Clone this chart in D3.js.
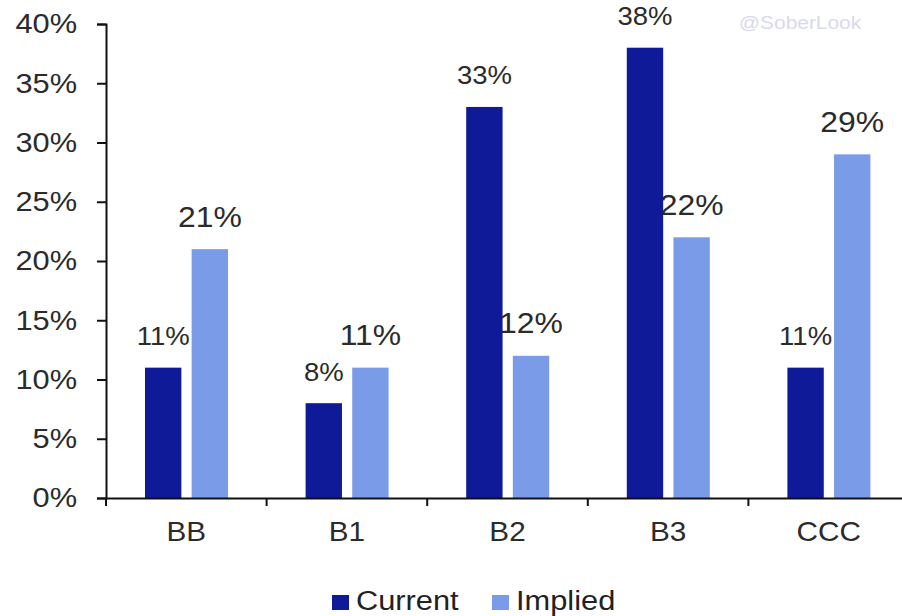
<!DOCTYPE html>
<html>
<head>
<meta charset="utf-8">
<script src="https://cdn.jsdelivr.net/npm/d3@7"></script>
<style>
  body { margin: 0; background: #fff; }
  svg text { font-family: "Liberation Sans", Arial, sans-serif; }
</style>
</head>
<body>
<div id="chart"></div>
<script>
const categories = ["BB", "B1", "B2", "B3", "CCC"];
const series = ["Current", "Implied"];
const current = [11, 8, 33, 38, 11];
const implied = [21, 11, 12, 22, 29];
const yTicks = [0, 5, 10, 15, 20, 25, 30, 35, 40];
const colors = { Current: "#0f1a98", Implied: "#7a9ce8" };

const width = 902, height = 616;
const plotLeft = 106, plotRight = 909, plotTop = 24, plotBottom = 498;
const sx = 1.1; // the source image is a bit wider than tall, stretch text to match

const svg = d3.select("#chart").append("svg")
    .attr("width", width)
    .attr("height", height);

// watermark
svg.append("text")
    .attr("transform", "translate(800,29) scale(" + sx + ",1)")
    .attr("text-anchor", "middle")
    .attr("font-size", 19)
    .attr("fill", "#d9d9ee")
    .text("@SoberLook");

var x0 = d3.scaleBand()
    .domain(categories)
    .range([plotLeft, plotRight])
    .paddingInner(0);

var x1 = d3.scaleBand()
    .domain(series)
    .range([39, 122])
    .paddingInner(0.22);

var y = d3.scaleLinear()
    .domain([0, 40])
    .range([plotBottom, plotTop]);

const rows = categories.map((c, i) => ({ cat: c, Current: current[i], Implied: implied[i] }));

const groups = svg.selectAll("g.cat")
    .data(rows)
    .enter()
    .append("g")
    .attr("class", "cat")
    .attr("transform", (d) => "translate(" + x0(d.cat) + ",0)");

groups.selectAll("rect")
    .data((d) => series.map((s) => ({ s: s, v: d[s] })))
    .enter()
    .append("rect")
    .attr("x", (d) => x1(d.s))
    .attr("width", x1.bandwidth())
    .attr("y", (d) => y(d.v))
    .attr("height", (d) => y(0) - y(d.v))
    .attr("fill", (d) => colors[d.s]);

//value labels, current ones are set a bit smaller than implied ones
groups.selectAll("text.val")
    .data((d) => series.map((s) => ({ s: s, v: d[s] })))
    .enter()
    .append("text")
    .attr("class", "val")
    .attr("transform", (d) => "translate(" + (x1(d.s) + x1.bandwidth() / 2) + "," + (y(d.v) - 22.5) + ") scale(" + sx + ",1)")
    .attr("text-anchor", "middle")
    .attr("font-size", (d) => d.s === "Current" ? 25 : 29)
    .attr("fill", "#2b2b2b")
    .text((d) => d.v + "%");

// y axis
const yAxis = svg.append("g")
    .attr("transform", "translate(" + plotLeft + ",0)")
    .call(d3.axisLeft(y).tickValues(yTicks).tickFormat((d) => d + "%").tickSize(9));
yAxis.select(".domain").attr("stroke", "#111").attr("stroke-width", 2);
yAxis.selectAll(".tick line").attr("stroke", "#111").attr("stroke-width", 2);
yAxis.selectAll(".tick text")
    .attr("x", -29 / sx)
    .attr("transform", "scale(" + sx + ",1)")
    .attr("font-size", 28)
    .attr("fill", "#2b2b2b")
    .attr("font-family", "'Liberation Sans', Arial, sans-serif");

// x axis
const xAxis = svg.append("g")
    .attr("transform", "translate(0," + plotBottom + ")")
    .call(d3.axisBottom(x0).tickSize(0).tickPadding(24));
xAxis.select(".domain").attr("stroke", "#111").attr("stroke-width", 2);
xAxis.selectAll(".tick text")
    .attr("transform", "scale(" + sx + ",1)")
    .attr("font-size", 27)
    .attr("fill", "#2b2b2b")
    .attr("font-family", "'Liberation Sans', Arial, sans-serif");
xAxis.selectAll("line.sep")
    .data(categories)
    .enter()
    .append("line")
    .attr("class", "sep")
    .attr("x1", (d) => x0(d)).attr("x2", (d) => x0(d))
    .attr("y1", 0).attr("y2", 8)
    .attr("stroke", "#111").attr("stroke-width", 2);

// legend
const legend = svg.append("g").attr("transform", "translate(332,595)");
const legX = { Current: 0, Implied: 160 };
series.forEach((s) => {
  const g = legend.append("g").attr("transform", "translate(" + legX[s] + ",0)");
  g.append("rect").attr("x", 0).attr("y", 0).attr("width", 17).attr("height", 15).attr("fill", colors[s]);
  g.append("text")
      .attr("transform", "translate(24,15) scale(" + sx + ",1)")
      .attr("font-size", 28).attr("fill", "#222").text(s);
});
</script>
</body>
</html>
